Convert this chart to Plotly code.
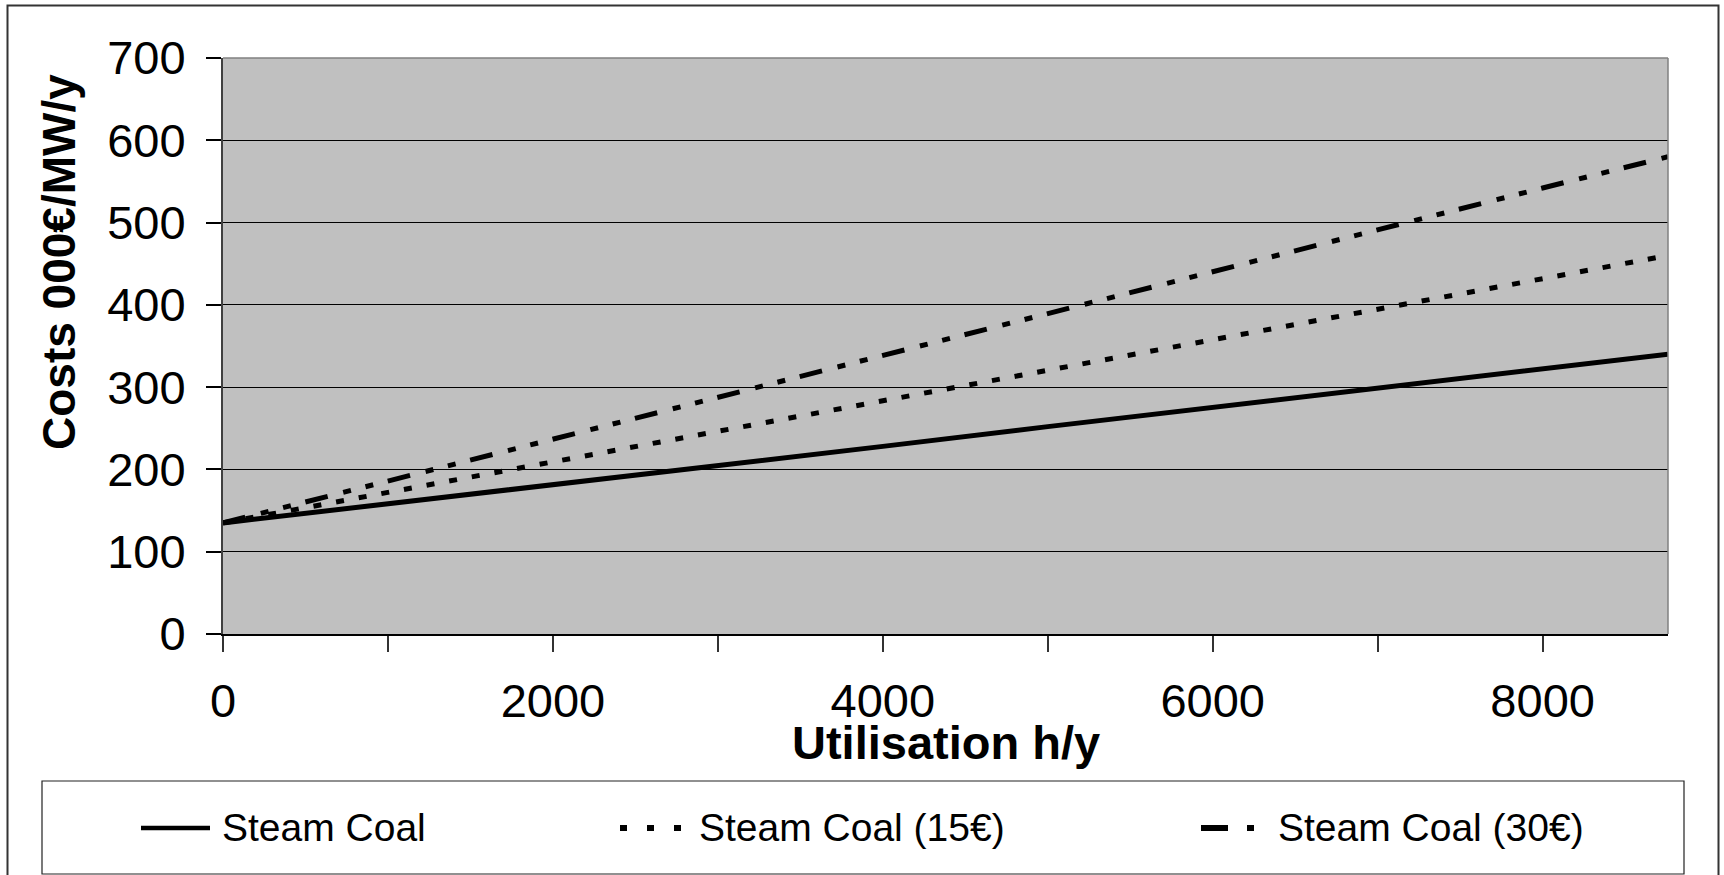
import plotly.graph_objects as go

# ---- data ----
hours = [0, 1000, 2000, 3000, 4000, 5000, 6000, 7000, 8000, 8760]
steam_coal = [135, 158, 182, 205, 228, 252, 275, 299, 322, 340]
steam_coal_15 = [135, 172, 209, 246, 283, 320, 357, 394, 431, 460]
steam_coal_30 = [135, 186, 237, 288, 338, 389, 440, 491, 542, 580]

series_names = ["Steam Coal", "Steam Coal (15€)", "Steam Coal (30€)"]
x_tickvals = [0, 1000, 2000, 3000, 4000, 5000, 6000, 7000, 8000]
x_ticktext = ["0", "", "2000", "", "4000", "", "6000", "", "8000"]
y_tickvals = [0, 100, 200, 300, 400, 500, 600, 700]

W, H = 1724, 875
L, R, T, B = 223, 1668, 58, 634
FONT = "Liberation Sans, Arial, sans-serif"


def px(x):
    return (x - L) / (R - L)


def py(y):
    return (B - y) / (B - T)


DOT = "8px,15px"
DASHDOTDOT = "23px,16px,8px,15px,8px,15px"

fig = go.Figure()
fig.add_trace(go.Scatter(x=hours, y=steam_coal, mode="lines", name=series_names[0],
                         line=dict(color="black", width=5), showlegend=False))
fig.add_trace(go.Scatter(x=hours, y=steam_coal_15, mode="lines", name=series_names[1],
                         line=dict(color="black", width=5, dash=DOT), showlegend=False))
fig.add_trace(go.Scatter(x=hours, y=steam_coal_30, mode="lines", name=series_names[2],
                         line=dict(color="black", width=5, dash=DASHDOTDOT), showlegend=False))

shapes = []
# outer chart border
shapes.append(dict(type="rect", xref="paper", yref="paper",
                   x0=px(7.5), x1=px(1718.5), y0=py(900), y1=py(5.5),
                   line=dict(color="#333333", width=2), layer="below"))
# plot area top/right border (gray)
shapes.append(dict(type="line", xref="paper", yref="paper", x0=0, x1=1, y0=1, y1=1,
                   line=dict(color="#808080", width=1.5)))
shapes.append(dict(type="line", xref="paper", yref="paper", x0=1, x1=1, y0=0, y1=1,
                   line=dict(color="#808080", width=1.5)))
# legend box
shapes.append(dict(type="rect", xref="paper", yref="paper",
                   x0=px(42), x1=px(1684), y0=py(874), y1=py(781),
                   line=dict(color="#222222", width=1.2)))
# legend samples
ly = py(828)
shapes.append(dict(type="line", xref="paper", yref="paper", x0=px(141), x1=px(210), y0=ly, y1=ly,
                   line=dict(color="black", width=4.5)))
shapes.append(dict(type="line", xref="paper", yref="paper", x0=px(620), x1=px(690), y0=ly, y1=ly,
                   line=dict(color="black", width=6, dash="7px,20px")))
shapes.append(dict(type="line", xref="paper", yref="paper", x0=px(1201), x1=px(1254), y0=ly, y1=ly,
                   line=dict(color="black", width=6, dash="27px,19px,7px,100px")))

annotations = []
for xpos, name in zip([220, 697, 1276], series_names):
    annotations.append(dict(xref="paper", yref="paper", x=px(xpos), y=py(827),
                            xanchor="left", yanchor="middle", text=name, showarrow=False,
                            font=dict(family=FONT, size=39, color="black")))
# axis titles
annotations.append(dict(xref="paper", yref="paper", x=px(946), y=py(742),
                        xanchor="center", yanchor="middle", text="<b>Utilisation h/y</b>",
                        showarrow=False, font=dict(family=FONT, size=47, color="black")))
annotations.append(dict(xref="paper", yref="paper", x=px(59), y=py(262),
                        xanchor="center", yanchor="middle", text="<b>Costs 000€/MW/y</b>",
                        textangle=-90, showarrow=False,
                        font=dict(family=FONT, size=46, color="black")))

fig.update_layout(
    width=W, height=H,
    margin=dict(l=L, r=W - R, t=T, b=H - B, pad=0),
    paper_bgcolor="white",
    plot_bgcolor="#C0C0C0",
    font=dict(family=FONT, size=46, color="black"),
    showlegend=False,
    shapes=shapes,
    annotations=annotations,
    xaxis=dict(range=[0, 8760], tickvals=x_tickvals, ticktext=x_ticktext,
               ticks="outside", ticklen=16, tickcolor="#333333", tickwidth=1.5,
               showgrid=False, zeroline=False, showline=True, linecolor="black", linewidth=1.5,
               ticklabelstandoff=9, tickfont=dict(size=47)),
    yaxis=dict(range=[0, 700], tickvals=y_tickvals,
               ticks="outside", ticklen=15, tickcolor="black", tickwidth=1.5,
               showgrid=True, gridcolor="black", gridwidth=1,
               zeroline=False, showline=True, linecolor="#404040", linewidth=2,
               ticklabelstandoff=11, tickfont=dict(size=47)),
)

fig.write_html("out.html")
